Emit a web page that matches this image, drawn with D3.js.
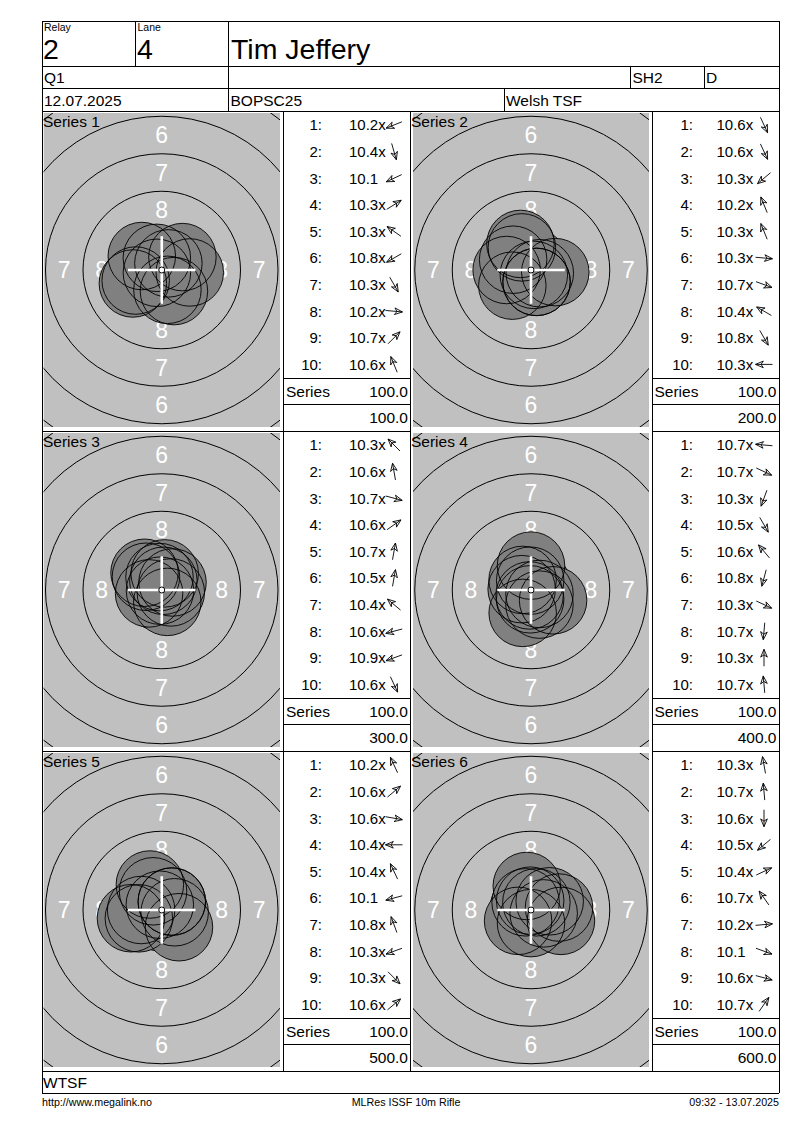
<!DOCTYPE html>
<html><head><meta charset="utf-8">
<script src="https://cdn.jsdelivr.net/npm/d3@7"></script>
<style>
body{margin:0;background:#fff}
svg{display:block}
text{font-family:"Liberation Sans",Arial,sans-serif;fill:#000}
</style>
</head><body>
<svg id="chart" width="800" height="1130"></svg>
<script>
// ---------- data ----------
const headerRelay = "2";
const headerLane = "4";
const shooterName = "Tim Jeffery";
const headerRow2 = ["Q1", "SH2", "D"];
const headerRow3 = ["12.07.2025", "BOPSC25", "Welsh TSF"];
const clubName = "WTSF";
const footerTexts = ["http://www.megalink.no", "MLRes ISSF 10m Rifle", "09:32 - 13.07.2025"];

const seriesNames = ["Series 1", "Series 2", "Series 3", "Series 4", "Series 5", "Series 6"];
const shotScores = [
  ["10.2x","10.4x","10.1","10.3x","10.3x","10.8x","10.3x","10.2x","10.7x","10.6x"],
  ["10.6x","10.6x","10.3x","10.2x","10.3x","10.3x","10.7x","10.4x","10.8x","10.3x"],
  ["10.3x","10.6x","10.7x","10.6x","10.7x","10.5x","10.4x","10.6x","10.9x","10.6x"],
  ["10.7x","10.7x","10.3x","10.5x","10.6x","10.8x","10.3x","10.7x","10.3x","10.7x"],
  ["10.2x","10.6x","10.6x","10.4x","10.4x","10.1","10.8x","10.3x","10.3x","10.6x"],
  ["10.3x","10.7x","10.6x","10.5x","10.4x","10.7x","10.2x","10.1","10.6x","10.7x"]
];
// shot direction from the target centre, degrees counter-clockwise from east
const shotDirections = [
  [202, 286, 205, 32, 145, 210, 300, 355, 45, 112],
  [295, 295, 220, 112, 112, 355, 340, 150, 300, 180],
  [135, 100, 345, 35, 80, 80, 140, 195, 200, 295],
  [175, 335, 250, 300, 130, 255, 335, 265, 90, 95],
  [115, 40, 350, 180, 115, 195, 110, 200, 315, 40],
  [100, 95, 270, 220, 25, 125, 5, 340, 345, 55]
];
const seriesTotals = ["100.0","100.0","100.0","100.0","100.0","100.0"];
const runningTotals = ["100.0","200.0","300.0","400.0","500.0","600.0"];
const ringNumbers = [5, 6, 7, 8, 9];
const ringLabels = [8, 7, 6];

// ---------- layout ----------
const svg = d3.select("#chart");
const X0 = 42, X1 = 779;
const hdr = [21, 66, 88.5, 111];
const panelTop = d3.scaleLinear().domain([0, 1]).range([111, 431]);
const wtsfTop = 1071, wtsfBot = 1093;

const mm = d3.scaleLinear().domain([0, 1]).range([0, 15]);          // mm -> px on the target
const scoreDist = d3.scaleLinear().domain([10.0, 10.9]).range([2.375, 0.125]); // score -> mm from centre
const ringRadius = d3.scaleLinear().domain([1, 10]).range([22.75, 0.25]); // ring -> radius (mm)
const labelRadius = d3.scaleLinear().domain([8, 6]).range([4, 9]);      // ring label -> mm
const rowY = d3.scaleLinear().domain([0, 9]).range([14, 14 + 9 * 26.6]);

const cols = [
  {cellL: 42, cellR: 283, gx: 43.5, gw: 236.5, sL: 283, sR: 410, labR: 322, scoreX: 349, arrX: 394, serX: 286, valR: 408, nameX: 43},
  {cellL: 410, cellR: 652, gx: 413, gw: 236, sL: 652, sR: 779, labR: 693, scoreX: 716.5, arrX: 764, serX: 654.5, valR: 776.5, nameX: 411}
];

const lines = svg.append("g").attr("stroke", "#000").attr("stroke-width", 1).attr("shape-rendering", "crispEdges");
function hline(y, a, b) { lines.append("line").attr("x1", a).attr("x2", b).attr("y1", y).attr("y2", y); }
function vline(x, a, b) { lines.append("line").attr("x1", x).attr("x2", x).attr("y1", a).attr("y2", b); }

function txt(x, y, s, size, anchor) {
  return svg.append("text").attr("x", x).attr("y", y).attr("font-size", size)
    .attr("text-anchor", anchor || "start").text(s);
}

// header
hdr.forEach(y => hline(y, X0, X1));
vline(X0, hdr[0], wtsfBot); vline(X1, hdr[0], wtsfBot);
vline(135.5, hdr[0], hdr[1]);
vline(228.5, hdr[0], hdr[3]);
vline(630.5, hdr[1], hdr[2]); vline(704, hdr[1], hdr[2]);
vline(504, hdr[2], hdr[3]);

txt(44, 31, "Relay", 10.5);
txt(43, 59, headerRelay, 28.5);
txt(137.5, 31, "Lane", 10.5);
txt(137, 59, headerLane, 28.5);
txt(231, 59, shooterName, 28.5);
txt(44, 83, headerRow2[0], 15.5);
txt(632.5, 83, headerRow2[1], 15.5);
txt(706, 83, headerRow2[2], 15.5);
txt(44, 106, headerRow3[0], 15.5);
txt(230.5, 106, headerRow3[1], 15.5);
txt(506, 106, headerRow3[2], 15.5);

// bottom rows
hline(wtsfTop, X0, X1); hline(wtsfBot, X0, X1);
txt(43, 1088, clubName, 15.5);
txt(42, 1106, footerTexts[0], 10.7);
txt(406, 1106, footerTexts[1], 10.7, "middle");
txt(779, 1106, footerTexts[2], 10.7, "end");

const defs = svg.append("defs");

function drawArrow(g, x, y, deg) {
  const a = deg * Math.PI / 180, L = 17;
  const ux = Math.cos(a), uy = -Math.sin(a);
  const tx = x + ux * L / 2, ty = y + uy * L / 2;
  const sx = x - ux * L / 2, sy = y - uy * L / 2;
  const rot = (vx, vy, t) => [vx * Math.cos(t) - vy * Math.sin(t), vx * Math.sin(t) + vy * Math.cos(t)];
  const th = 23 * Math.PI / 180, hl = 8.5;
  const b1 = rot(-ux, -uy, th), b2 = rot(-ux, -uy, -th);
  const p1 = [tx + b1[0] * hl, ty + b1[1] * hl], p2 = [tx + b2[0] * hl, ty + b2[1] * hl];
  const m = [tx - ux * 5.5, ty - uy * 5.5];
  const p = d3.path();
  p.moveTo(sx, sy); p.lineTo(tx, ty);
  p.moveTo(p1[0], p1[1]); p.lineTo(tx, ty); p.lineTo(p2[0], p2[1]);
  p.moveTo(p1[0], p1[1]); p.lineTo(m[0], m[1]); p.lineTo(p2[0], p2[1]);
  g.append("path").attr("d", p.toString()).attr("fill", "none").attr("stroke", "#000").attr("stroke-width", 0.9);
}

seriesNames.forEach((name, i) => {
  const row = Math.floor(i / 2), c = cols[i % 2];
  const top = panelTop(row);
  const gy = top + 2, gh = 314;
  const cx = c.gx + c.gw / 2, cy = gy + gh / 2;

  // panel lines
  if (row > 0) {
    if (i % 2 === 0) hline(top, c.cellL, c.cellR);
    hline(top, c.sL, c.sR);
  }
  vline(c.sL, top, top + 320); vline(c.sR, top, top + 320);
  hline(top + 267, c.sL, c.sR); hline(top + 293, c.sL, c.sR);

  // target
  const clipId = "clip" + i;
  defs.append("clipPath").attr("id", clipId).append("rect")
    .attr("x", c.gx).attr("y", gy).attr("width", c.gw).attr("height", gh);
  const tg = svg.append("g").attr("clip-path", `url(#${clipId})`);
  tg.append("rect").attr("x", c.gx).attr("y", gy).attr("width", c.gw).attr("height", gh).attr("fill", "#c0c0c0");
  tg.selectAll("circle.ring").data(ringNumbers).join("circle").attr("class", "ring")
    .attr("cx", cx).attr("cy", cy).attr("r", d => mm(ringRadius(d)))
    .attr("fill", "none").attr("stroke", "#000").attr("stroke-width", 1);
  const labData = [];
  ringLabels.forEach(n => [[0, -1], [0, 1], [-1, 0], [1, 0]].forEach(d => labData.push({n, d})));
  tg.selectAll("text.lab").data(labData).join("text").attr("class", "lab")
    .attr("x", d => cx + d.d[0] * mm(labelRadius(d.n)))
    .attr("y", d => cy + d.d[1] * mm(labelRadius(d.n)) + 8.2)
    .attr("text-anchor", "middle").attr("font-size", 23).style("fill", "#fff")
    .text(d => d.n);

  const shots = shotScores[i].map((s, k) => {
    const dist = mm(scoreDist(parseFloat(s)));
    const a = shotDirections[i][k] * Math.PI / 180;
    return {x: cx + dist * Math.cos(a), y: cy - dist * Math.sin(a)};
  });
  const pr = mm(2.25);
  tg.selectAll("circle.shotf").data(shots).join("circle").attr("class", "shotf")
    .attr("cx", d => d.x).attr("cy", d => d.y).attr("r", pr).attr("fill", "#808080");
  tg.selectAll("circle.shoto").data(shots).join("circle").attr("class", "shoto")
    .attr("cx", d => d.x).attr("cy", d => d.y).attr("r", pr).attr("fill", "none")
    .attr("stroke", "#000").attr("stroke-width", 0.9);
  const arm = mm(2.25);
  tg.append("path").attr("d", `M${cx - arm},${cy}H${cx + arm}M${cx},${cy - arm}V${cy + arm}`)
    .attr("stroke", "#fff").attr("stroke-width", 2.6);
  tg.append("circle").attr("cx", cx).attr("cy", cy).attr("r", 3)
    .attr("fill", "#fff").attr("stroke", "#000").attr("stroke-width", 1);

  txt(c.nameX, top + 15.5, name, 15.5);

  // score list
  const sg = svg.append("g");
  shotScores[i].forEach((s, k) => {
    const y = top + rowY(k);
    txt(c.labR, y + 5.4, (k + 1) + ":", 15, "end");
    txt(c.scoreX, y + 5.4, s, 15);
    drawArrow(sg, c.arrX, y, shotDirections[i][k]);
  });
  txt(c.serX, top + 285.5, "Series", 15.5);
  txt(c.valR, top + 285.5, seriesTotals[i], 15.5, "end");
  txt(c.valR, top + 311.5, runningTotals[i], 15.5, "end");
});
</script>
</body></html>
